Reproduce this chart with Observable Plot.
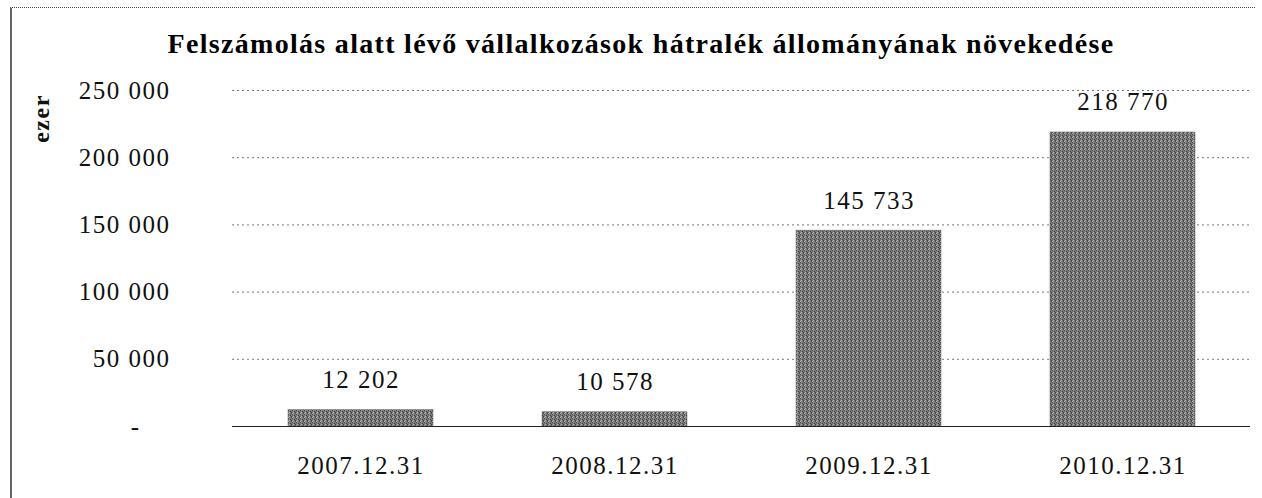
<!DOCTYPE html>
<html><head><meta charset="utf-8">
<script src="https://cdn.jsdelivr.net/npm/d3@7"></script>
<script src="https://cdn.jsdelivr.net/npm/@observablehq/plot@0.6"></script>
<style>
html,body{margin:0;padding:0;background:#fff;}
#wrap{position:relative;width:1262px;height:498px;overflow:hidden;font-family:"Liberation Serif","Times New Roman",serif;}
#frame{position:absolute;left:10px;top:7px;width:1245px;height:500px;border-left:2px solid #666;border-top:1px dotted #444;box-sizing:border-box;}
#title{position:absolute;left:0;top:0;width:1262px;height:70px;text-align:center;font-weight:bold;font-size:28px;letter-spacing:1.3px;line-height:1;padding-top:30px;box-sizing:border-box;padding-left:20px;}
#chart{position:absolute;left:0;top:70px;}
#chart svg text{letter-spacing:1.5px;}
</style></head>
<body><div id="wrap"><div id="frame"></div><div id="title">Felszámolás alatt lévő vállalkozások hátralék állományának növekedése</div><div id="chart"></div></div>
<script>
const categories = ["2007.12.31","2008.12.31","2009.12.31","2010.12.31"];
const values = [12202, 10578, 145733, 218770];
const yTicks = [50000, 100000, 150000, 200000, 250000];
const yLabel = "ezer";

const data = categories.map((c,i)=>({date:c, value:values[i]}));
const fmt = v => d3.format(",")(v).replace(/,/g," ");

const chart = Plot.plot({
  width: 1262,
  height: 428,
  marginTop: 20,
  marginBottom: 72,
  marginLeft: 232,
  marginRight: 12,
  style: {fontFamily: '"Liberation Serif","Times New Roman",serif', fontSize: "25px", color: "#111", background: "transparent"},
  x: {domain: categories, paddingInner: 0.43, paddingOuter: 0.215, label: null},
  y: {domain: [0, 250000], label: null},
  marks: [
    Plot.ruleY(yTicks, {stroke: "#777", strokeWidth: 1, strokeDasharray: "2,3"}),
    Plot.barY(data, {x: "date", y: "value", fill: "url(#halftone)", stroke: "#666", strokeWidth: 0.5}),
    Plot.ruleY([0], {stroke: "#222", strokeWidth: 1.2}),
    Plot.axisY(yTicks, {tickSize: 0, tickPadding: 62, tickFormat: fmt, fontSize: 25, label: null}),
    Plot.axisY([0], {tickSize: 0, tickPadding: 92, tickFormat: () => "-", fontSize: 25, label: null}),
    Plot.axisX({tickSize: 0, tickPadding: 30, fontSize: 25, label: null}),
    Plot.text(data, {x: "date", y: "value", text: d => fmt(d.value), dy: -30, fontSize: 25}),
    Plot.text([yLabel], {frameAnchor: "top-left", textAnchor: "middle", dx: -201, dy: 28, rotate: -90, fontWeight: "bold", fontSize: 24})
  ]
});
// halftone-like fill pattern for the bars
const svg = d3.select(chart.tagName === "svg" ? chart : chart.querySelector("svg"));
const pat = svg.insert("defs", ":first-child").append("pattern")
  .attr("id", "halftone").attr("patternUnits", "userSpaceOnUse")
  .attr("width", 4).attr("height", 4);
pat.append("rect").attr("width", 4).attr("height", 4).attr("fill", "#7a7a7a");
[[0,0,"#444"],[2,1,"#3a3a3a"],[1,2,"#b0b0b0"],[3,3,"#505050"],[1,0,"#9a9a9a"],[3,2,"#454545"],[0,3,"#b8b8b8"]].forEach(([x,y,c]) =>
  pat.append("rect").attr("x", x).attr("y", y).attr("width", 1).attr("height", 1).attr("fill", c));
document.getElementById("chart").appendChild(chart);
</script></body></html>
